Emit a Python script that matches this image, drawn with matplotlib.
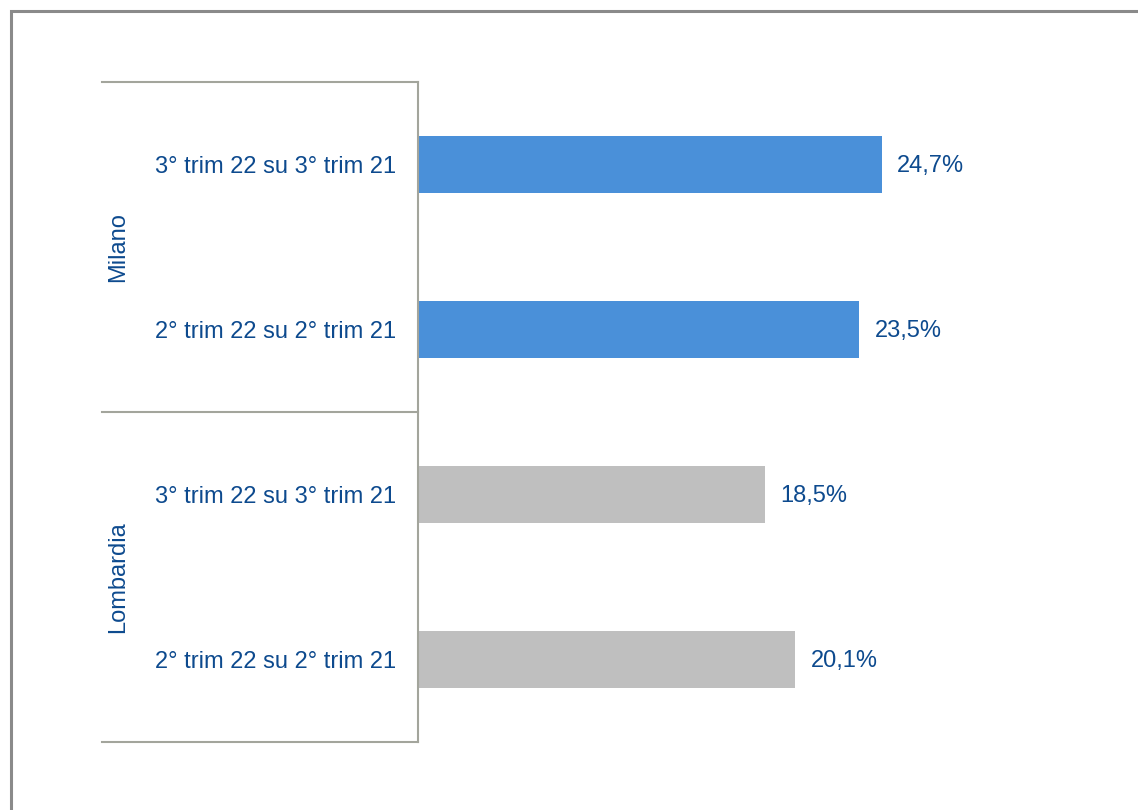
import matplotlib
matplotlib.use('Agg')
import matplotlib.pyplot as plt
from matplotlib.lines import Line2D

plt.rcParams['font.family'] = ['Liberation Sans', 'DejaVu Sans']

# rows from top to bottom
groups = ['Milano', 'Lombardia']
periods = ['3° trim 22 su 3° trim 21', '2° trim 22 su 2° trim 21',
           '3° trim 22 su 3° trim 21', '2° trim 22 su 2° trim 21']
values = [24.7, 23.5, 18.5, 20.1]
value_labels = ['24,7%', '23,5%', '18,5%', '20,1%']
colors = ['#4A90D9', '#4A90D9', '#BFBFBF', '#BFBFBF']

txt_col = '#0D4A8E'
line_col = '#A3A59C'
fs = 17

W, H = 1138, 810
fig = plt.figure(figsize=(W / 100, H / 100), dpi=100)
ax = fig.add_axes([418 / W, 68 / H, 676 / W, 660 / H])

ypos = list(range(len(values)))
ax.barh(ypos, values, height=0.35, color=colors)
ax.set_ylim(len(values) - 0.5, -0.5)
ax.set_xlim(0, 36)

for y, v, lab in zip(ypos, values, value_labels):
    ax.annotate(lab, (v, y), xytext=(11, -1), textcoords='offset points',
                va='center', ha='left', fontsize=fs, color=txt_col)

# category labels
ax.set_yticks(ypos)
ax.set_yticklabels(periods, fontsize=fs, color=txt_col)
ax.tick_params(axis='y', length=0, pad=16)
ax.set_xticks([])

for s in ['top', 'right', 'bottom']:
    ax.spines[s].set_visible(False)
ax.spines['left'].set_color(line_col)
ax.spines['left'].set_linewidth(1.5)

# group separators and group names
x0 = (102 - 418) / 676
for yb in [-0.5, 1.5, 3.5]:
    ax.plot([x0, 0], [yb, yb], color=line_col, lw=1.5, clip_on=False,
            transform=ax.get_yaxis_transform())
for i, g in enumerate(groups):
    ax.text((118 - 418) / 676, 2 * i + 0.5, g, rotation=90, ha='center',
            va='center', fontsize=fs, color=txt_col,
            transform=ax.get_yaxis_transform())

# outer frame
fig.add_artist(Line2D([1, 11 / W, 11 / W], [1 - 11 / H, 1 - 11 / H, 0],
                      color='#8A8A8A', lw=2.2, solid_joinstyle='miter'))

fig.savefig('out.png', dpi=100)
